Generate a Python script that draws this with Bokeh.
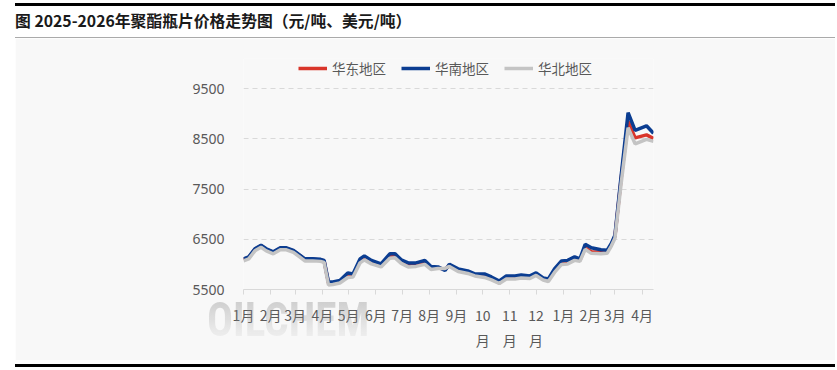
from datetime import date
from bokeh.plotting import figure
from bokeh.models import (ColumnDataSource, Range1d, FixedTicker, Div,
                          Legend, LegendItem)
from bokeh.layouts import column
from bokeh.embed import file_html
from bokeh.resources import INLINE

# ---------------- data ----------------
title_text = "图 2025-2026年聚酯瓶片价格走势图（元/吨、美元/吨）"
series_names = ["华东地区", "华南地区", "华北地区"]

dates = ["2025-01-01", "2025-01-07", "2025-01-14", "2025-01-21", "2025-01-27",
         "2025-02-04", "2025-02-12", "2025-02-19", "2025-02-27", "2025-03-06",
         "2025-03-12", "2025-03-21", "2025-03-30", "2025-04-03", "2025-04-08",
         "2025-04-13", "2025-04-21", "2025-04-30", "2025-05-06", "2025-05-14",
         "2025-05-19", "2025-05-27", "2025-06-07", "2025-06-17", "2025-06-23",
         "2025-06-30", "2025-07-08", "2025-07-17", "2025-07-27", "2025-08-03",
         "2025-08-11", "2025-08-19", "2025-08-24", "2025-09-03", "2025-09-14",
         "2025-09-22", "2025-10-03", "2025-10-11", "2025-10-20", "2025-10-28",
         "2025-11-07", "2025-11-14", "2025-11-24", "2025-12-01", "2025-12-09",
         "2025-12-15", "2025-12-22", "2025-12-30", "2026-01-06", "2026-01-14",
         "2026-01-20", "2026-01-26", "2026-02-02", "2026-02-13", "2026-02-20",
         "2026-02-25", "2026-03-01", "2026-03-08", "2026-03-16", "2026-03-24",
         "2026-04-06", "2026-04-14"]

south = [6110, 6150, 6310, 6380, 6310, 6250, 6330, 6330, 6280, 6190,
         6110, 6110, 6100, 6080, 5650, 5650, 5680, 5830, 5810, 6110,
         6170, 6080, 6010, 6210, 6210, 6090, 6030, 6030, 6080, 5960,
         5950, 5880, 6000, 5910, 5870, 5810, 5810, 5750, 5670, 5770,
         5770, 5790, 5770, 5830, 5730, 5710, 5910, 6070, 6080, 6150,
         6110, 6400, 6330, 6290, 6280, 6420, 6580, 7750, 9020, 8670,
         8760, 8610]

east = [6100, 6140, 6300, 6370, 6300, 6240, 6320, 6320, 6270, 6180,
        6100, 6100, 6090, 6070, 5630, 5630, 5660, 5770, 5790, 6060,
        6120, 6040, 5980, 6160, 6170, 6050, 5990, 6000, 6040, 5930,
        5930, 5900, 5980, 5880, 5840, 5790, 5770, 5710, 5630, 5740,
        5740, 5760, 5740, 5800, 5710, 5690, 5870, 6030, 6040, 6110,
        6080, 6330, 6250, 6240, 6250, 6400, 6560, 7700, 8850, 8520,
        8580, 8510]

north = [6070, 6110, 6270, 6340, 6270, 6210, 6290, 6290, 6240, 6150,
         6070, 6070, 6060, 6040, 5590, 5600, 5630, 5740, 5750, 6030,
         6090, 6010, 5950, 6120, 6130, 6020, 5950, 5960, 6000, 5900,
         5920, 5920, 5960, 5860, 5820, 5770, 5740, 5690, 5620, 5710,
         5710, 5730, 5720, 5780, 5690, 5660, 5840, 6000, 6010, 6080,
         6060, 6300, 6220, 6210, 6220, 6370, 6520, 7600, 8720, 8400,
         8490, 8450]

month_starts = ["2025-01-01", "2025-02-01", "2025-03-01", "2025-04-01",
                "2025-05-01", "2025-06-01", "2025-07-01", "2025-08-01",
                "2025-09-01", "2025-10-01", "2025-11-01", "2025-12-01",
                "2026-01-01", "2026-02-01", "2026-03-01", "2026-04-01"]
month_labels = ["1月", "2月", "3月", "4月", "5月", "6月", "7月", "8月", "9月",
                "10\n月", "11\n月", "12\n月", "1月", "2月", "3月", "4月"]

y_ticks = [5500, 6500, 7500, 8500, 9500]
y_min, y_max = 5500, 10100
watermark = "OILCHEM"

# ---------------- build ----------------
base = date(2025, 1, 1)
def day(s):
    return (date.fromisoformat(s) - base).days

xs = [day(d) for d in dates]
tick_days = [day(d) for d in month_starts]

src = ColumnDataSource(dict(x=xs, east=east, south=south, north=north))

BG = "#f8f8f8"
LBL = "#595959"
W = 820

p = figure(width=W, height=322, output_backend="svg", toolbar_location=None,
           x_range=Range1d(0, xs[-1]), y_range=Range1d(y_min, y_max),
           min_border_left=228, min_border_right=W - 638,
           min_border_top=20, min_border_bottom=71,
           background_fill_color=BG, border_fill_color=BG,
           outline_line_color=None, margin=(0, 0, 0, 15))

r_e = p.line("x", "east", source=src, line_color="#d9352a", line_width=3.5)
r_s = p.line("x", "south", source=src, line_color="#0b3d91", line_width=3.5)
r_n = p.line("x", "north", source=src, line_color="#c4c4c4", line_width=3.5)

legend = Legend(items=[LegendItem(label=series_names[0], renderers=[r_e]),
                       LegendItem(label=series_names[1], renderers=[r_s]),
                       LegendItem(label=series_names[2], renderers=[r_n])],
                orientation="horizontal", location=(55, 211),
                background_fill_alpha=0, border_line_alpha=0,
                padding=0, margin=0, spacing=15,
                glyph_width=29, glyph_height=20, label_standoff=5,
                label_height=20,
                label_text_font="Noto Sans CJK SC",
                label_text_font_size="13.5px", label_text_color=LBL)
p.add_layout(legend)

# y axis
p.yaxis.ticker = FixedTicker(ticks=y_ticks)
p.yaxis.axis_line_color = None
p.yaxis.major_tick_line_color = None
p.yaxis.minor_tick_line_color = None
p.yaxis.major_tick_out = 0
p.yaxis.major_tick_in = 0
p.yaxis.major_label_standoff = 19
p.yaxis.major_label_text_font = "Noto Sans"
p.yaxis.major_label_text_font_size = "14px"
p.yaxis.major_label_text_color = LBL

# x axis
p.xaxis.ticker = FixedTicker(ticks=tick_days)
p.xaxis.major_label_overrides = {d: l for d, l in zip(tick_days, month_labels)}
p.xaxis.axis_line_color = "#d9d9d9"
p.xaxis.major_tick_line_color = "#d9d9d9"
p.xaxis.minor_tick_line_color = None
p.xaxis.major_tick_out = 5
p.xaxis.major_tick_in = 0
p.xaxis.major_label_standoff = 10
p.xaxis.major_label_text_font = "Noto Sans CJK SC"
p.xaxis.major_label_text_font_size = "14px"
p.xaxis.major_label_text_color = LBL
p.xaxis.major_label_text_line_height = 1.27

# grid
p.xgrid.grid_line_color = None
p.ygrid.grid_line_color = "#d9d9d9"
p.ygrid.grid_line_dash = "5 4"
p.ygrid.grid_line_width = 1

title = Div(text=('<div style="box-sizing:border-box;width:%dpx;height:35px;'
                  'border-top:3px solid #000;border-bottom:1px solid #aaa;'
                  'background:#ffffff;font-family:\'Noto Sans CJK SC\';'
                  'font-weight:bold;font-size:15.8px;line-height:30px;'
                  'color:#1a1a1a;white-space:nowrap;">%s</div>') % (W, title_text),
            width=W, height=35, margin=(3, 0, 0, 15))

bottom = Div(text=('<div style="position:relative;width:%dpx;height:1px;">'
                   '<div style="position:absolute;left:0;top:-7px;width:%dpx;'
                   'height:3px;background:#000;"></div>'
                   '<span style="position:absolute;left:192px;top:-75px;'
                   'font-family:\'Liberation Sans Narrow\',\'Roboto Condensed\',Roboto;'
                   'font-weight:bold;font-size:48px;line-height:48px;'
                   'transform:scaleX(0.9);transform-origin:left top;'
                   'background:linear-gradient(rgba(140,140,140,0.42),rgba(170,170,170,0.04));'
                   '-webkit-background-clip:text;background-clip:text;'
                   'color:transparent;white-space:nowrap;pointer-events:none;">%s</span></div>')
             % (W, W, watermark),
             width=W, height=3, margin=(0, 0, 0, 15))

layout = column(title, p, bottom, spacing=0)

open("out.html", "w").write(file_html(layout, INLINE))
